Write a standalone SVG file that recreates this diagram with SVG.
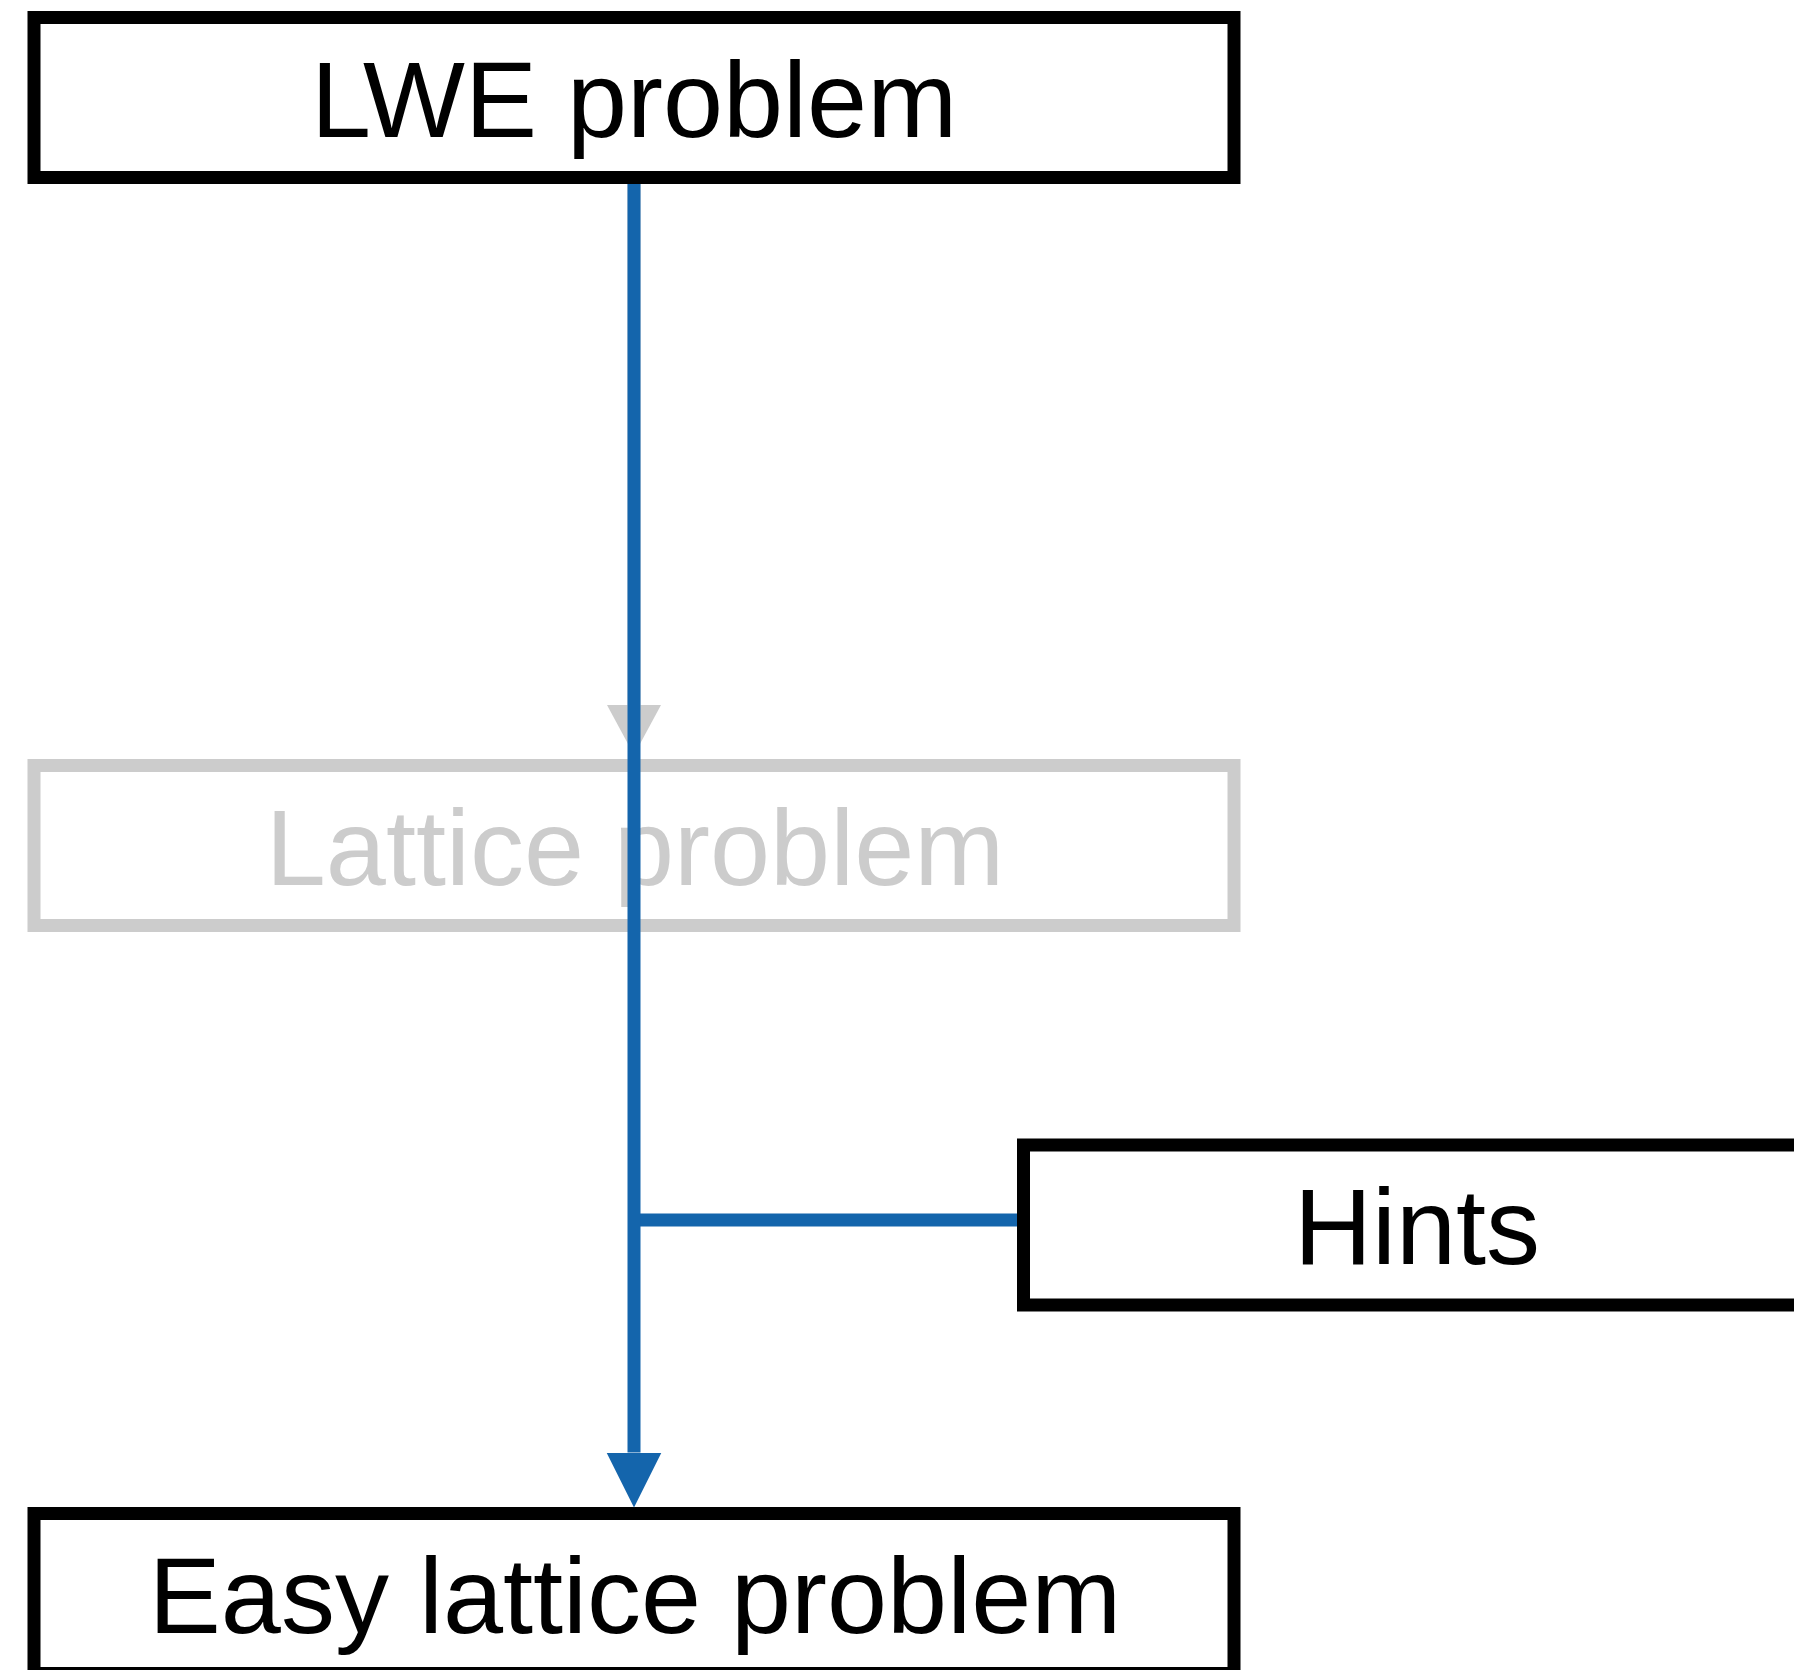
<svg xmlns="http://www.w3.org/2000/svg" width="1794" height="1670" viewBox="0 0 1794 1670">
  <style>
    .box { fill: #ffffff; stroke: #000000; stroke-width: 13; }
    .box.faded { stroke: #cccccc; }
    .label { font-family: "Liberation Sans", Arial, sans-serif; font-size: 108px; fill: #000000; text-anchor: middle; }
    .label.faded { fill: #cccccc; }
    .edge { fill: none; stroke-width: 13; }
    .edge.main { stroke: #1465ac; }
    .edge.faded { stroke: #cccccc; }
  </style>
  <defs>
    <marker id="arrow-blue" markerUnits="userSpaceOnUse" markerWidth="56" markerHeight="56" refX="0" refY="27.5" orient="auto" viewBox="0 0 56 56">
      <path d="M0,0 L55,27.5 L0,55 Z" fill="#1465ac"/>
    </marker>
    <marker id="arrow-gray" markerUnits="userSpaceOnUse" markerWidth="56" markerHeight="56" refX="0" refY="27" orient="auto" viewBox="0 0 56 56">
      <path d="M0,0 L50,27 L0,54 Z" fill="#cccccc"/>
    </marker>
  </defs>

  <!-- nodes -->
  <g id="node-lwe">
    <rect class="box" x="34" y="17.5" width="1200" height="160"/>
    <text class="label" x="634" y="137">LWE problem</text>
  </g>
  <g id="node-lattice">
    <rect class="box faded" x="34" y="765.5" width="1200" height="160"/>
    <text class="label faded" x="635" y="885">Lattice problem</text>
  </g>
  <g id="node-hints">
    <rect class="box" x="1023.5" y="1145" width="1200" height="160"/>
    <text class="label" x="1417" y="1264">Hints</text>
  </g>
  <g id="node-easy">
    <rect class="box" x="34" y="1513.5" width="1200" height="160"/>
    <text class="label" x="635" y="1633">Easy lattice problem</text>
  </g>

  <!-- connectors -->
  <g id="connectors">
    <path class="edge faded" d="M634,184 L634,705" marker-end="url(#arrow-gray)"/>
    <path class="edge main" d="M1017,1220 L634,1220"/>
    <path class="edge main" d="M634,184 L634,1452.5" marker-end="url(#arrow-blue)"/>
  </g>
</svg>
